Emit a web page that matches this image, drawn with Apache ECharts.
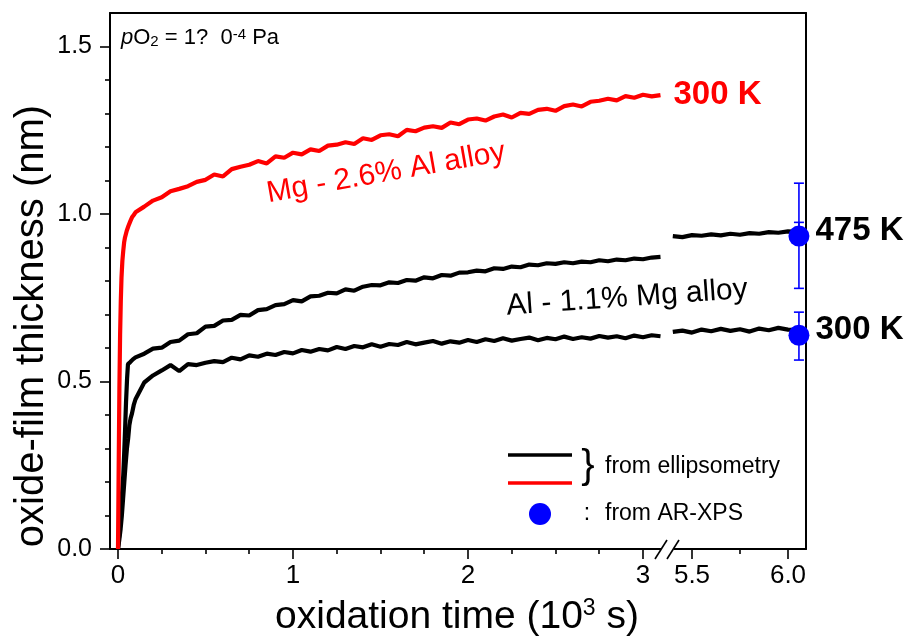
<!DOCTYPE html>
<html>
<head>
<meta charset="utf-8">
<script src="https://cdn.jsdelivr.net/npm/echarts@6/dist/echarts.min.js"></script>
<style>html,body{margin:0;padding:0;background:#fff}#c{width:908px;height:640px}</style>
</head>
<body>
<div id="c"></div>
<script>
// ---------------- data ----------------
const tMain = [0.10,0.15,0.20,0.25,0.30,0.35,0.40,0.45,0.50,0.55,0.60,0.65,0.70,0.75,0.80,0.85,0.90,0.95,1.00,1.05,1.10,1.15,1.20,1.25,1.30,1.35,1.40,1.45,1.50,1.55,1.60,1.65,1.70,1.75,1.80,1.85,1.90,1.95,2.00,2.05,2.10,2.15,2.20,2.25,2.30,2.35,2.40,2.45,2.50,2.55,2.60,2.65,2.70,2.75,2.80,2.85,2.90,2.95,3.00,3.05,3.10];

const redEarlyT = [0,0.004,0.008,0.012,0.016,0.020,0.025,0.030,0.035,0.040,0.050,0.060,0.070,0.080,0.090];
const redEarlyV = [0,0.25,0.48,0.64,0.74,0.81,0.86,0.89,0.915,0.93,0.95,0.965,0.978,0.99,0.997];
const redMainV = [1.005,1.022,1.040,1.050,1.068,1.075,1.083,1.096,1.102,1.118,
  1.112,1.134,1.141,1.147,1.158,1.151,1.172,1.168,1.183,1.178,
  1.193,1.188,1.204,1.207,1.214,1.209,1.226,1.221,1.235,1.238,
  1.232,1.251,1.247,1.258,1.262,1.257,1.273,1.268,1.282,1.285,
  1.279,1.291,1.297,1.288,1.302,1.299,1.311,1.314,1.308,1.322,
  1.327,1.321,1.335,1.338,1.344,1.339,1.352,1.347,1.356,1.351,
  1.355];

const al475EarlyT = [0,0.010,0.020,0.030,0.035,0.040,0.046,0.052,0.057,0.070,0.085];
const al475EarlyV = [0,0.06,0.14,0.22,0.28,0.35,0.44,0.51,0.552,0.558,0.566];
const al475MainV = [0.572,0.583,0.598,0.601,0.618,0.622,0.641,0.644,0.664,0.666,
  0.682,0.684,0.699,0.697,0.713,0.716,0.728,0.731,0.743,0.739,
  0.754,0.756,0.765,0.763,0.775,0.771,0.783,0.788,0.787,0.796,
  0.794,0.803,0.801,0.811,0.808,0.818,0.816,0.825,0.826,0.831,
  0.829,0.838,0.836,0.843,0.841,0.849,0.847,0.853,0.851,0.856,
  0.853,0.858,0.856,0.862,0.859,0.864,0.862,0.867,0.865,0.870,
  0.872];

const al300EarlyT = [0,0.008,0.015,0.022,0.029,0.036,0.043,0.051,0.058,0.065,0.072,0.080,0.090];
const al300EarlyV = [0,0.03,0.06,0.10,0.15,0.20,0.25,0.30,0.33,0.37,0.39,0.405,0.43];
const al300MainV = [0.447,0.497,0.518,0.533,0.549,0.531,0.552,0.549,0.556,0.561,
  0.558,0.571,0.566,0.578,0.574,0.583,0.579,0.588,0.584,0.594,
  0.589,0.597,0.593,0.603,0.597,0.606,0.602,0.611,0.604,0.612,
  0.609,0.618,0.611,0.616,0.621,0.613,0.620,0.616,0.624,0.618,
  0.626,0.621,0.629,0.622,0.627,0.631,0.623,0.630,0.626,0.634,
  0.627,0.632,0.628,0.636,0.631,0.635,0.629,0.637,0.632,0.638,
  0.635];

const tLate = [5.40,5.45,5.50,5.55,5.60,5.65,5.70,5.75,5.80,5.85,5.90,5.95,6.00,6.05];
const al475LateV = [0.934,0.931,0.937,0.935,0.939,0.936,0.941,0.938,0.943,0.941,0.946,0.944,0.948,0.947];
const al300LateV = [0.648,0.652,0.646,0.655,0.650,0.657,0.651,0.656,0.649,0.658,0.653,0.660,0.655,0.654];

const xpsT = [6.057, 6.057];
const xpsV = [0.934, 0.638];
const xpsLow = [0.778, 0.564];
const xpsHigh = [1.092, 0.707];
const xpsLabels = ['475 K', '300 K'];
const xpsInnerHigh = [0.975];

const xTicksMajor1 = [0, 1, 2, 3];
const xTicksMinor1 = [0.25, 0.5, 0.75, 1.25, 1.5, 1.75, 2.25, 2.5, 2.75];
const xTicksMajor2 = [5.5, 6.0];
const xTicksMinor2 = [5.75];
const yTicksMajor = [0, 0.5, 1.0, 1.5];
const yTicksMinor = [0.1, 0.2, 0.3, 0.4, 0.6, 0.7, 0.8, 0.9, 1.1, 1.2, 1.3, 1.4];

// ---------------- helpers ----------------
function pairs(xs, ys) { const n = Math.min(xs.length, ys.length); const o = []; for (let i = 0; i < n; i++) o.push([xs[i], ys[i]]); return o; }
const FONT = 'Liberation Sans, Arial, Helvetica, sans-serif';

const redData = pairs(redEarlyT, redEarlyV).concat(pairs(tMain, redMainV));
const al475Data = pairs(al475EarlyT, al475EarlyV).concat(pairs(tMain, al475MainV));
const al300Data = pairs(al300EarlyT, al300EarlyV).concat(pairs(tMain, al300MainV));
const al475Late = pairs(tLate, al475LateV);
const al300Late = pairs(tLate, al300LateV);
const xpsData = xpsT.map((x, i) => ({ value: [x, xpsV[i]], label: { formatter: xpsLabels[i] } }));
const errData = xpsT.map((x, i) => [x, xpsLow[i], xpsHigh[i]]).concat(xpsInnerHigh.map(h => [xpsT[0], xpsV[0], h]));

const AX = { color: '#000', width: 2 };
function baseAxis(extra) {
  return Object.assign({
    type: 'value', splitLine: { show: false },
    axisLine: { show: true, onZero: false, lineStyle: AX },
    axisTick: { show: false }, axisLabel: { show: false }
  }, extra);
}
function tickAxis(gridIndex, position, min, max, values, len, labels, fmt, margin, fsize) {
  return baseAxis({
    gridIndex, position, min, max,
    axisLine: { show: !!labels, onZero: false, lineStyle: AX },
    axisTick: { show: true, inside: false, length: len, customValues: values, lineStyle: { color: '#000', width: 1.6 } },
    axisLabel: labels ? { show: true, customValues: values, formatter: fmt, margin, color: '#000', fontSize: fsize, fontFamily: FONT } : { show: false }
  });
}

const x1min = -0.0457, x1max = 3.1429, x2min = 5.375, x2max = 6.0938;
const LW = 4.2;

const option = {
  animation: false,
  backgroundColor: '#fff',
  grid: [
    { left: 110, top: 13, width: 558, height: 536 },
    { left: 668, top: 13, width: 138, height: 536 }
  ],
  xAxis: [
    tickAxis(0, 'bottom', x1min, x1max, xTicksMajor1, 10, true, v => String(v), 14, 26),
    tickAxis(0, 'bottom', x1min, x1max, xTicksMinor1, 5, false),
    baseAxis({ gridIndex: 0, position: 'top', min: x1min, max: x1max }),
    tickAxis(1, 'bottom', x2min, x2max, xTicksMajor2, 10, true, v => v.toFixed(1), 14, 26),
    tickAxis(1, 'bottom', x2min, x2max, xTicksMinor2, 5, false),
    baseAxis({ gridIndex: 1, position: 'top', min: x2min, max: x2max })
  ],
  yAxis: [
    tickAxis(0, 'left', 0, 1.6, yTicksMajor, 10, true, v => v.toFixed(1), 18, 25),
    tickAxis(0, 'left', 0, 1.6, yTicksMinor, 5, false),
    baseAxis({ gridIndex: 1, position: 'right', min: 0, max: 1.6 })
  ],
  series: [
    { type: 'line', xAxisIndex: 0, yAxisIndex: 0, data: al300Data, showSymbol: false, symbol: 'none',
      lineStyle: { color: '#000', width: LW }, z: 3 },
    { type: 'line', xAxisIndex: 0, yAxisIndex: 0, data: al475Data, showSymbol: false, symbol: 'none',
      lineStyle: { color: '#000', width: LW }, z: 3 },
    { type: 'line', xAxisIndex: 0, yAxisIndex: 0, data: redData, showSymbol: false, symbol: 'none',
      lineStyle: { color: '#ff0000', width: LW }, z: 4,
      endLabel: { show: true, formatter: '300 K', color: '#ff0000', fontSize: 33, fontWeight: 'bold', fontFamily: FONT, distance: 13 } },
    { type: 'line', xAxisIndex: 3, yAxisIndex: 2, data: al475Late, showSymbol: false, symbol: 'none',
      lineStyle: { color: '#000', width: LW }, z: 3 },
    { type: 'line', xAxisIndex: 3, yAxisIndex: 2, data: al300Late, showSymbol: false, symbol: 'none',
      lineStyle: { color: '#000', width: LW }, z: 3 },
    { type: 'custom', xAxisIndex: 3, yAxisIndex: 2, data: errData, clip: false, z: 5,
      encode: { x: 0, y: [1, 2] },
      renderItem: function (params, api) {
        const x = api.value(0), lo = api.value(1), hi = api.value(2);
        const a = api.coord([x, lo]), b = api.coord([x, hi]);
        const w = 5, st = { stroke: '#0000ff', lineWidth: 1.6, opacity: 1 };
        return { type: 'group', children: [
          { type: 'line', shape: { x1: a[0], y1: a[1], x2: b[0], y2: b[1] }, style: st },
          { type: 'line', shape: { x1: a[0] - w, y1: a[1], x2: a[0] + w, y2: a[1] }, style: st },
          { type: 'line', shape: { x1: b[0] - w, y1: b[1], x2: b[0] + w, y2: b[1] }, style: st }
        ] };
      } },
    { type: 'scatter', xAxisIndex: 3, yAxisIndex: 2, data: xpsData, symbol: 'circle', symbolSize: 21, z: 6, clip: false,
      itemStyle: { color: '#0000ff', opacity: 1 },
      label: { show: true, position: 'right', distance: 6, offset: [0, -5], color: '#000', opacity: 1, fontSize: 33, fontWeight: 'bold', fontFamily: FONT } }
  ],
  graphic: [
    // axis titles
    { type: 'text', x: 32, y: 326, rotation: Math.PI / 2, z: 10,
      style: { text: 'oxide-film thickness (nm)', fontSize: 40, fontFamily: FONT, fill: '#000', align: 'center', verticalAlign: 'middle' } },
    { type: 'text', x: 457, y: 617, z: 10,
      style: { text: 'oxidation time (10{sup|3} s)', fontSize: 39, fontFamily: FONT, fill: '#000', align: 'center', verticalAlign: 'middle',
        rich: { sup: { fontSize: 23, fontFamily: FONT, verticalAlign: 'top', fill: '#000' } } } },
    // condition note
    { type: 'text', x: 121, y: 38, z: 10,
      style: { text: '{it|p}O{sub|2} = 1?  0{sup|-4} Pa', fontSize: 22, fontFamily: FONT, fill: '#000', align: 'left', verticalAlign: 'middle',
        rich: { it: { fontStyle: 'italic', fontSize: 22, fontFamily: FONT }, sub: { fontSize: 15, fontFamily: FONT, verticalAlign: 'bottom' }, sup: { fontSize: 15, fontFamily: FONT, verticalAlign: 'top' } } } },
    // curve labels
    { type: 'text', x: 386, y: 173, rotation: 10 * Math.PI / 180, z: 10,
      style: { text: 'Mg - 2.6% Al alloy', fontSize: 30, fontFamily: FONT, fill: '#ff0000', align: 'center', verticalAlign: 'middle' } },
    { type: 'text', x: 627, y: 298, rotation: 4 * Math.PI / 180, z: 10,
      style: { text: 'Al - 1.1% Mg alloy', fontSize: 30, fontFamily: FONT, fill: '#000', align: 'center', verticalAlign: 'middle' } },
    // legend
    { type: 'line', z: 10, shape: { x1: 508, y1: 455, x2: 572, y2: 455 }, style: { stroke: '#000', lineWidth: 3.5 } },
    { type: 'line', z: 10, shape: { x1: 508, y1: 483, x2: 572, y2: 483 }, style: { stroke: '#ff0000', lineWidth: 3.5 } },
    { type: 'text', x: 588, y: 467, z: 10, style: { text: '}', fontSize: 40, fontFamily: FONT, fill: '#000', align: 'center', verticalAlign: 'middle' } },
    { type: 'text', x: 605, y: 467, z: 10, style: { text: 'from ellipsometry', fontSize: 23, fontFamily: FONT, fill: '#000', align: 'left', verticalAlign: 'middle' } },
    { type: 'circle', z: 10, shape: { cx: 540, cy: 514, r: 11 }, style: { fill: '#0000ff' } },
    { type: 'text', x: 587, y: 514, z: 10, style: { text: ':', fontSize: 23, fontFamily: FONT, fill: '#000', align: 'center', verticalAlign: 'middle' } },
    { type: 'text', x: 605, y: 514, z: 10, style: { text: 'from AR-XPS', fontSize: 23, fontFamily: FONT, fill: '#000', align: 'left', verticalAlign: 'middle' } },
    // axis break marks
    { type: 'rect', z: 20, shape: { x: 661, y: 545, width: 13, height: 8 }, style: { fill: '#fff' } },
    { type: 'line', z: 21, shape: { x1: 655, y1: 559, x2: 667, y2: 540 }, style: { stroke: '#000', lineWidth: 1.6 } },
    { type: 'line', z: 21, shape: { x1: 667, y1: 559, x2: 679, y2: 540 }, style: { stroke: '#000', lineWidth: 1.6 } }
  ]
};

const chart = echarts.init(document.getElementById('c'), null, { renderer: 'canvas', width: 908, height: 640 });
chart.setOption(option);
</script>
</body>
</html>
